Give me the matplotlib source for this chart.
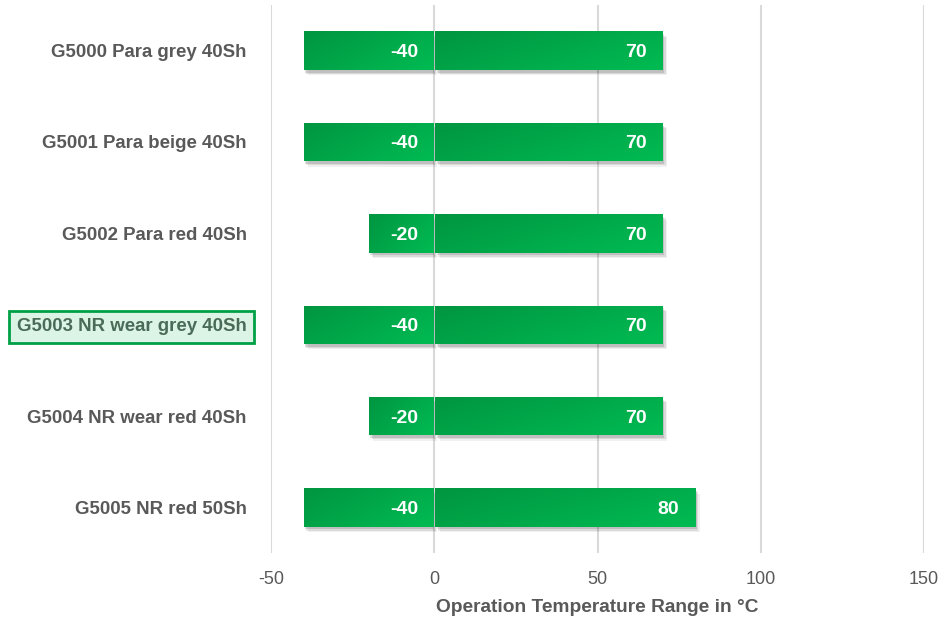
import numpy as np
import matplotlib.pyplot as plt
from matplotlib.patches import Rectangle
from matplotlib.colors import LinearSegmentedColormap
import matplotlib.patheffects as pe

# data
materials = ['G5000 Para grey 40Sh', 'G5001 Para beige 40Sh', 'G5002 Para red 40Sh',
             'G5003 NR wear grey 40Sh', 'G5004 NR wear red 40Sh', 'G5005 NR red 50Sh']
t_min = [-40, -40, -20, -40, -20, -40]
t_max = [70, 70, 70, 70, 70, 80]
highlight = 'G5003 NR wear grey 40Sh'

plt.rcParams['font.family'] = ['Liberation Sans', 'DejaVu Sans']
plt.rcParams['axes.unicode_minus'] = False
grey = '#595959'

fig = plt.figure(figsize=(9.44, 6.18), dpi=100)
ax = fig.add_axes([0.287, 0.105, 0.692, 0.887])

cmap = LinearSegmentedColormap.from_list('grn', ['#009640', '#00a84a', '#00bb52'])
# diagonal gradient: dark upper-left, light lower-right
gy, gx = np.mgrid[0:1:20j, 0:1:60j]
grad = 0.65 * gx + 0.35 * gy

h = 0.42
gap = 0.35
shadow = [pe.SimplePatchShadow(offset=(3, -4), shadow_rgbFace='#000000', alpha=0.06),
          pe.SimplePatchShadow(offset=(2, -3), shadow_rgbFace='#000000', alpha=0.09),
          pe.SimplePatchShadow(offset=(1, -2), shadow_rgbFace='#000000', alpha=0.12),
          pe.Normal()]
for i, (lo, hi) in enumerate(zip(t_min, t_max)):
    for x0, x1 in [(lo, -gap), (gap, hi)]:
        r = Rectangle((x0, i - h / 2), x1 - x0, h, facecolor='#00a84a', edgecolor='none', zorder=2)
        r.set_path_effects(shadow)
        ax.add_patch(r)
        im = ax.imshow(grad, cmap=cmap, extent=(x0, x1, i + h / 2, i - h / 2),
                       aspect='auto', zorder=3, interpolation='bilinear')
        im.set_clip_path(r)
    ax.text(-4.8, i, str(lo), ha='right', va='center_baseline', color='white',
            fontsize=14, fontweight='bold', zorder=4)
    ax.text(hi - 5, i, str(hi), ha='right', va='center_baseline', color='white',
            fontsize=14, fontweight='bold', zorder=4)

ax.set_xlim(-50, 150)
ax.set_ylim(len(materials) - 0.5, -0.5)
ax.set_xticks([-50, 0, 50, 100, 150])
ax.set_yticks(range(len(materials)))
ax.set_yticklabels(materials, fontsize=13.4, fontweight='bold', color=grey)
ax.tick_params(axis='x', length=0, labelsize=13, labelcolor=grey, pad=13)
ax.tick_params(axis='y', length=0, pad=17.5)
ax.grid(axis='x', color='#d9d9d9', linewidth=1.5, zorder=0)
ax.set_axisbelow(True)
for s in ax.spines.values():
    s.set_visible(False)

for lbl in ax.get_yticklabels():
    if lbl.get_text() == highlight:
        lbl.set_color('#4a6b58')
        lbl.set_bbox(dict(facecolor='#dcf4e6', edgecolor='#00a046', linewidth=2,
                          boxstyle='square,pad=0.4'))

ax.set_xlabel('Operation Temperature Range in °C', fontsize=13.8, fontweight='bold',
              color=grey, labelpad=8)

fig.savefig('out.png', dpi=100)
